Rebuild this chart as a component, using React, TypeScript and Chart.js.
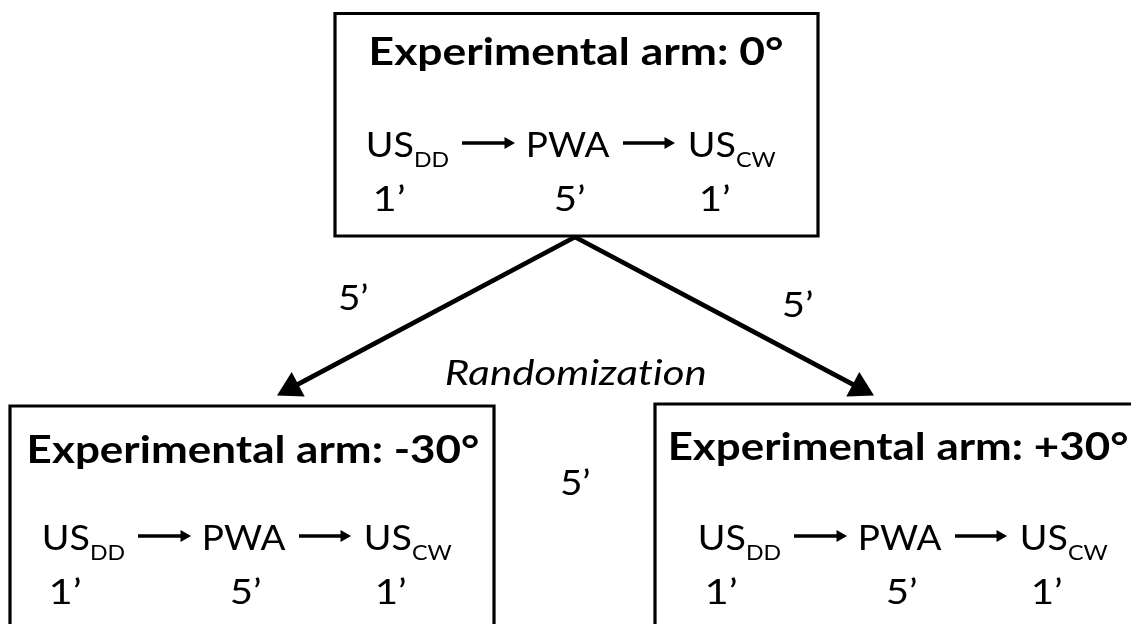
import React, { useEffect, useRef } from "react";
import { Chart, registerables } from "chart.js";

Chart.register(...registerables);

// ---------------- data (labels) ----------------
const ARM_TITLES = ["Experimental arm: 0°", "Experimental arm: -30°", "Experimental arm: +30°"];
const STEP_NAMES = ["US", "PWA", "US"];
const STEP_SUBSCRIPTS = ["DD", "", "CW"];
const STEP_DURATIONS = ["1’", "5’", "1’"];
const WASHOUT_LABELS = ["5’", "5’", "5’"]; // left branch, right branch, between arms
const RANDOMIZATION_LABEL = "Randomization";

// ---------------- layout (units of the hidden linear axes) ----------------
const W = 1131;
const H = 624;
const BOX_RECTS = [
  [335, 13.5, 818, 236],
  [10, 406, 494, 690],
  [655, 404, 1165, 690],
];
const TITLE_SPANS = [
  [372, 782, 65],
  [30, 478, 463],
  [671, 1127, 460],
];
const ROW_ANCHORS = [
  [368, 157],
  [44, 550],
  [700, 550],
];
const ROW_NAME_SPANS = [
  [0, 45],
  [161, 242],
  [322, 367],
];
const ROW_SUB_SPANS = [[47, 80], null, [369, 408]];
const ROW_ARROW_SPANS = [
  [94, 147],
  [255, 307],
];
const ROW_DURATION_SPANS = [
  [7, 36],
  [187, 216],
  [333, 361],
];
const ROW_SUB_DROP = 10;
const ROW_ARROW_RISE = -14;
const ROW_DURATION_DROP = 54;
const SPLIT_FROM = [575, 237];
const SPLIT_TIPS = [
  [277, 395.5],
  [874, 395.5],
];
const WASHOUT_SPANS = [
  [339, 367, 310],
  [783, 812, 317],
  [561, 589, 495],
];
const RANDOM_SPAN = [446, 705, 385];

const FONT = "Lato, 'Open Sans', sans-serif";
const CAP_RATIO = 0.7165;

function arrowDataset(from: number[], tip: number[], r: number, width: number) {
  const dx = tip[0] - from[0];
  const dy = tip[1] - from[1];
  const len = Math.hypot(dx, dy);
  const cx = tip[0] - (r * dx) / len;
  const cy = tip[1] - (r * dy) / len;
  const rot = (Math.atan2(dx, -dy) * 180) / Math.PI;
  return {
    data: [
      { x: from[0], y: from[1] },
      { x: cx, y: cy },
    ],
    showLine: true,
    borderColor: "#000",
    borderWidth: width,
    borderCapStyle: "butt",
    pointStyle: "triangle",
    pointRadius: [0, r],
    pointHoverRadius: [0, r],
    pointRotation: [0, rot],
    pointBackgroundColor: "#000",
    pointBorderColor: "#000",
    pointBorderWidth: 0,
    clip: false,
  };
}

function drawFitted(
  ctx: CanvasRenderingContext2D,
  xs: any,
  ys: any,
  text: string,
  x0: number,
  x1: number,
  baseline: number,
  cap: number,
  weight: string,
  italic: boolean,
  noLigatures = false
) {
  const size = cap / CAP_RATIO;
  ctx.save();
  ctx.font = `${italic ? "italic " : ""}${weight} ${size}px ${FONT}`;
  ctx.textAlign = "left";
  ctx.textBaseline = "alphabetic";
  if (noLigatures && "letterSpacing" in ctx) {
    (ctx as any).letterSpacing = "0.01px";
  }
  const m = ctx.measureText(text);
  const inkW = m.actualBoundingBoxLeft + m.actualBoundingBoxRight;
  const px0 = xs.getPixelForValue(x0);
  const px1 = xs.getPixelForValue(x1);
  const sx = inkW > 0 ? (px1 - px0) / inkW : 1;
  ctx.translate(px0, ys.getPixelForValue(baseline));
  ctx.scale(sx, 1);
  ctx.fillStyle = "#000";
  ctx.fillText(text, m.actualBoundingBoxLeft, 0);
  ctx.restore();
}

const textPlugin = {
  id: "diagramText",
  afterDatasetsDraw(chart: any) {
    const ctx: CanvasRenderingContext2D = chart.ctx;
    const xs = chart.scales.x;
    const ys = chart.scales.y;
    ctx.save();
    ARM_TITLES.forEach((t, i) => {
      const [a, b, base] = TITLE_SPANS[i];
      drawFitted(ctx, xs, ys, t, a, b, base, 28, "bold", false);
      const [ax, ay] = ROW_ANCHORS[i];
      STEP_NAMES.forEach((name, j) => {
        const [n0, n1] = ROW_NAME_SPANS[j];
        drawFitted(ctx, xs, ys, name, ax + n0, ax + n1, ay, 25, "normal", false);
        const sub = STEP_SUBSCRIPTS[j];
        const ss = ROW_SUB_SPANS[j];
        if (sub && ss) {
          drawFitted(ctx, xs, ys, sub, ax + ss[0], ax + ss[1], ay + ROW_SUB_DROP, 15, "normal", false);
        }
        const [d0, d1] = ROW_DURATION_SPANS[j];
        drawFitted(ctx, xs, ys, STEP_DURATIONS[j], ax + d0, ax + d1, ay + ROW_DURATION_DROP, 25, "normal", false);
      });
    });
    WASHOUT_LABELS.forEach((t, i) => {
      const [a, b, base] = WASHOUT_SPANS[i];
      drawFitted(ctx, xs, ys, t, a, b, base, 25, "normal", false);
    });
    drawFitted(ctx, xs, ys, RANDOMIZATION_LABEL, RANDOM_SPAN[0], RANDOM_SPAN[1], RANDOM_SPAN[2], 25, "normal", true, true);
    ctx.restore();
  },
};

export default function App() {
  const ref = useRef<HTMLCanvasElement | null>(null);
  useEffect(() => {
    if (!ref.current) return;
    const datasets: any[] = [];
    BOX_RECTS.forEach(([x0, y0, x1, y1]) => {
      datasets.push({
        data: [
          { x: x0, y: y0 },
          { x: x1, y: y0 },
          { x: x1, y: y1 },
          { x: x0, y: y1 },
          { x: x0, y: y0 },
          { x: x1, y: y0 },
        ],
        showLine: true,
        borderColor: "#000",
        borderWidth: 3.2,
        borderJoinStyle: "miter",
        pointRadius: 0,
        pointHoverRadius: 0,
      });
    });
    SPLIT_TIPS.forEach((tip) => datasets.push(arrowDataset(SPLIT_FROM, tip, 16, 4.8)));
    ROW_ANCHORS.forEach(([ax, ay]) => {
      ROW_ARROW_SPANS.forEach(([a0, a1]) => {
        datasets.push(arrowDataset([ax + a0, ay + ROW_ARROW_RISE], [ax + a1, ay + ROW_ARROW_RISE], 7, 3.6));
      });
    });
    const chart = new Chart(ref.current, {
      type: "scatter",
      data: { datasets },
      options: {
        animation: false,
        responsive: false,
        events: [],
        layout: { padding: 0, autoPadding: false },
        plugins: { legend: { display: false }, tooltip: { enabled: false } },
        elements: { line: { tension: 0 } },
        scales: {
          x: { type: "linear", min: 0, max: W, display: false },
          y: { type: "linear", min: 0, max: H, reverse: true, display: false },
        },
      },
      plugins: [textPlugin],
    } as any);
    return () => chart.destroy();
  }, []);
  return (
    <div style={{ position: "fixed", left: 0, top: 0, width: W, height: H, background: "#fff" }}>
      <canvas ref={ref} width={W} height={H} style={{ display: "block", width: W, height: H }} />
    </div>
  );
}
